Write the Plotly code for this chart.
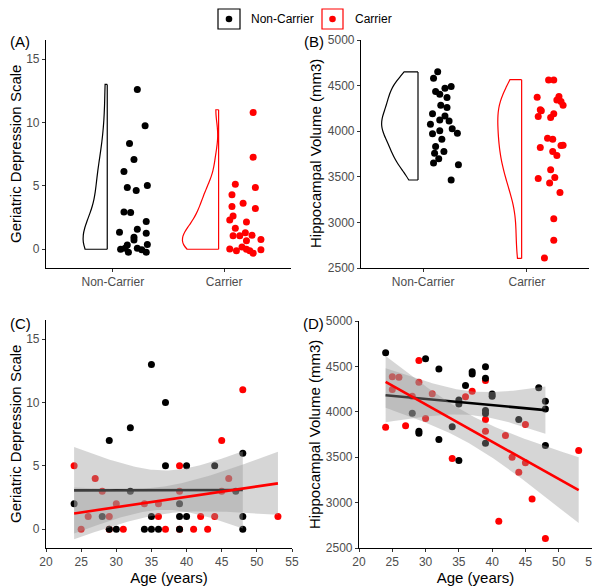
import numpy as np
import plotly.graph_objects as go
from plotly.subplots import make_subplots

# the page body keeps its default 8px margin, so the figure sits at (8, 8) in the window
PAGE_OFF = 8
W, H = 600 - PAGE_OFF, 587 - PAGE_OFF
FONT = "Liberation Sans, Arial, sans-serif"

GROUPS = ["Non-Carrier", "Carrier"]
COLORS = {"Non-Carrier": "black", "Carrier": "red"}
CAT_TICKS = [1, 2]

# ---- panel C: age vs geriatric depression scale
nc_age_gds = [24, 28, 29, 29, 30, 32, 32, 34, 35, 35, 35, 36, 37, 37, 39, 39, 39, 40, 40, 44, 47, 48, 48, 48]
nc_gds = [2, 1, 7, 0, 0, 8, 3, 0, 13, 1, 0, 0, 10, 5, 2, 1, 0, 5, 1, 5, 3, 6, 1, 0]
c_age_gds = [24, 25, 26, 27, 28, 29, 29, 30, 31, 34, 36, 36, 37, 39, 39, 39, 41, 42, 43, 44, 45, 45, 46, 48, 53]
c_gds = [5, 0, 1, 4, 3, 1, 0, 2, 0, 2, 2, 1, 0, 5, 3, 0, 0, 1, 0, 1, 7, 3, 4, 11, 1]

# ---- panel D: age vs hippocampal volume
nc_age_hv = [24, 30, 32, 39, 39, 37, 37, 36, 35, 35, 40, 40, 47, 48, 48, 39, 39, 28, 29, 29, 32, 34, 44, 39, 48, 35]
nc_hv = [4650, 4585, 4470, 4495, 4370, 4440, 4415, 4290, 4130, 4085, 4195, 4170, 4265, 4115, 4030,
         4015, 3980, 3985, 3785, 3765, 3695, 3835, 3915, 3655, 3630, 3465]
c_age_hv = [24, 25, 25, 26, 27, 28, 29, 29, 30, 31, 34, 36, 37, 39, 39, 39, 41, 42, 43, 44, 45, 45, 46, 48, 53]
c_hv = [3830, 4385, 4245, 4380, 3845, 4170, 4565, 4325, 3925, 4200, 3485, 4165, 4225, 4345, 3915,
        3785, 2795, 3740, 3500, 3335, 3860, 3440, 3040, 2605, 3575]

# ---- panel A: jittered points (category position, value) as plotted
nc_jit_x_gds = [1.22, 1.29, 1.15, 1.19, 1.10, 1.13, 1.21, 1.31, 1.10, 1.16, 1.30, 1.22, 1.06, 1.30,
                1.19, 1.19, 1.13, 1.31, 1.07, 1.11, 1.14, 1.22, 1.26, 1.30]
nc_jit_gds = [12.6, 9.73, 8.34, 7.07, 6.13, 4.87, 4.63, 5.02, 2.94, 2.89, 2.18, 1.58, 1.34, 1.26,
              0.95, 0.72, 0.34, 0.37, 0.0, 0.08, -0.24, 0.08, -0.05, -0.24]
c_jit_x_gds = [2.26, 2.26, 2.10, 2.28, 2.07, 2.17, 2.07, 2.28, 2.08, 2.05, 2.20, 2.10, 2.19, 2.08,
               2.14, 2.25, 2.33, 2.20, 2.05, 2.11, 2.16, 2.20, 2.23, 2.26, 2.33]
c_jit_gds = [10.78, 7.26, 5.13, 4.87, 4.29, 3.63, 3.37, 3.21, 2.63, 2.31, 2.15, 1.66, 1.29, 1.07,
             1.07, 1.10, 0.76, 0.66, 0.02, -0.11, 0.18, 0.0, -0.11, -0.32, -0.05]

# ---- panel B: jittered points
nc_jit_x_hv = [1.14, 1.10, 1.12, 1.16, 1.21, 1.27, 1.23, 1.17, 1.23, 1.09, 1.21, 1.16, 1.25, 1.07,
               1.16, 1.09, 1.28, 1.33, 1.18, 1.12, 1.11, 1.20, 1.15, 1.10, 1.34, 1.27]
nc_jit_hv = [4653, 4580, 4434, 4405, 4471, 4489, 4369, 4285, 4259, 4190, 4168, 4124, 4113, 4077,
             4004, 3971, 4026, 3978, 3912, 3832, 3759, 3777, 3697, 3650, 3631, 3464]
c_jit_x_hv = [2.21, 2.26, 2.10, 2.31, 2.29, 2.33, 2.35, 2.13, 2.14, 2.11, 2.23, 2.26, 2.20, 2.25,
              2.13, 2.35, 2.33, 2.25, 2.29, 2.23, 2.11, 2.22, 2.27, 2.32, 2.26, 2.26, 2.17]
c_jit_hv = [4562, 4562, 4372, 4380, 4343, 4325, 4285, 4234, 4223, 4161, 4150, 4190, 3923, 3912,
            3821, 3847, 3843, 3777, 3734, 3577, 3482, 3431, 3493, 3328, 3040, 2803, 2609]

# 97.5% t quantiles for the lm confidence band
T975 = {21: 2.080, 22: 2.074, 23: 2.069, 24: 2.064, 25: 2.060}


def nrd0(values):
    v = np.asarray(values, float)
    iqr = np.subtract(*np.percentile(v, [75, 25]))
    return 0.9 * min(v.std(ddof=1), iqr / 1.34) * len(v) ** -0.2


def lm_band(x, y, n_grid=80):
    x = np.asarray(x, float)
    y = np.asarray(y, float)
    n = len(x)
    slope, intercept = np.polyfit(x, y, 1)
    resid = y - (slope * x + intercept)
    s = np.sqrt((resid ** 2).sum() / (n - 2))
    grid = np.linspace(x.min(), x.max(), n_grid)
    fit = slope * grid + intercept
    se = s * np.sqrt(1 / n + (grid - x.mean()) ** 2 / ((x - x.mean()) ** 2).sum())
    t = T975[n - 2]
    return grid, fit, fit - t * se, fit + t * se


# window pixel -> paper coordinate
def PX(px):
    return (px - PAGE_OFF) / W


def PY(py):
    return 1 - (py - PAGE_OFF) / H


fig = make_subplots(rows=2, cols=2)

# ---- raincloud panels (A: row1 col1, B: row1 col2)
rain = [
    (1, 1, [nc_gds, c_gds], [(nc_jit_x_gds, nc_jit_gds), (c_jit_x_gds, c_jit_gds)], [0.43, 0.65]),
    (1, 2, [nc_hv, c_hv], [(nc_jit_x_hv, nc_jit_hv), (c_jit_x_hv, c_jit_hv)], [0.70, 0.46]),
]
for row, col, raw, jit, widths in rain:
    for i, g in enumerate(GROUPS):
        flat_x = CAT_TICKS[i] - 0.05
        fig.add_trace(go.Violin(
            y=raw[i], x0=flat_x, side="negative", width=widths[i],
            spanmode="hard", bandwidth=nrd0(raw[i]), points=False,
            fillcolor="rgba(0,0,0,0)", line=dict(color=COLORS[g], width=1.2),
            hoveron="violins", showlegend=False,
        ), row=row, col=col)
        # straight edge of the half violin
        fig.add_trace(go.Scatter(
            x=[flat_x, flat_x], y=[min(raw[i]), max(raw[i])], mode="lines",
            line=dict(color=COLORS[g], width=1.2), showlegend=False, hoverinfo="skip",
        ), row=row, col=col)
        fig.add_trace(go.Scatter(
            x=jit[i][0], y=jit[i][1], mode="markers",
            marker=dict(color=COLORS[g], size=7), showlegend=False,
        ), row=row, col=col)

# ---- scatter + lm panels (C: row2 col1, D: row2 col2)
scat = [
    (2, 1, [(nc_age_gds, nc_gds), (c_age_gds, c_gds)]),
    (2, 2, [(nc_age_hv, nc_hv), (c_age_hv, c_hv)]),
]
for row, col, pairs in scat:
    # red first so black points sit on top
    for i in [1, 0]:
        g = GROUPS[i]
        fig.add_trace(go.Scatter(
            x=pairs[i][0], y=pairs[i][1], mode="markers",
            marker=dict(color=COLORS[g], size=7), showlegend=False,
        ), row=row, col=col)
    for i, g in enumerate(GROUPS):
        grid, fit, lo, hi = lm_band(*pairs[i])
        fig.add_trace(go.Scatter(
            x=np.concatenate([grid, grid[::-1]]), y=np.concatenate([hi, lo[::-1]]),
            fill="toself", fillcolor="rgba(153,153,153,0.4)", line=dict(width=0),
            mode="lines", showlegend=False, hoverinfo="skip",
        ), row=row, col=col)
        fig.add_trace(go.Scatter(
            x=grid, y=fit, mode="lines", line=dict(color=COLORS[g], width=2.6),
            showlegend=False,
        ), row=row, col=col)

axis_style = dict(
    showline=True, linecolor="black", linewidth=1.1, ticks="outside", ticklen=3,
    tickcolor="#333333", tickwidth=1, showgrid=False, zeroline=False, automargin=False,
    tickfont=dict(size=12, color="#4d4d4d", family=FONT),
)
title_font = dict(size=15, color="black", family=FONT)


def dom_x(a, b):
    return [PX(a), PX(b)]


def dom_y(top, bottom):
    return [PY(bottom), PY(top)]


fig.update_layout(
    xaxis=dict(domain=dom_x(46, 291), range=[0.4, 2.6], tickvals=CAT_TICKS, ticktext=GROUPS, **axis_style),
    yaxis=dict(domain=dom_y(40, 268), range=[-1.48, 16.5], tickvals=[0, 5, 10, 15], **axis_style),
    xaxis2=dict(domain=dom_x(361, 589), range=[0.4, 2.6], tickvals=CAT_TICKS, ticktext=GROUPS, **axis_style),
    yaxis2=dict(domain=dom_y(40, 268), range=[2500, 5000], tickvals=[2500, 3000, 3500, 4000, 4500, 5000],
                **axis_style),
    xaxis3=dict(domain=dom_x(46, 292), range=[20, 55], tickvals=[20, 25, 30, 35, 40, 45, 50, 55],
                title=dict(text="Age (years)", font=title_font, standoff=2), **axis_style),
    yaxis3=dict(domain=dom_y(320, 548), range=[-1.48, 16.5], tickvals=[0, 5, 10, 15], **axis_style),
    xaxis4=dict(domain=dom_x(359, 592), range=[20, 55], tickvals=[20, 25, 30, 35, 40, 45, 50, 55],
                title=dict(text="Age (years)", font=title_font, standoff=2), **axis_style),
    yaxis4=dict(domain=dom_y(321, 548), range=[2500, 5000], tickvals=[2500, 3000, 3500, 4000, 4500, 5000],
                **axis_style),
    width=W, height=H,
    margin=dict(l=0, r=0, t=0, b=0, autoexpand=False),
    plot_bgcolor="white", paper_bgcolor="white",
    font=dict(family=FONT, color="black"),
    showlegend=False,
)

# y axis titles, placed by hand so the left one stays inside the figure
for text, x, y in [("Geriatric Depression Scale", 16, 154), ("Hippocampal Volume (mm3)", 315, 153),
                   ("Geriatric Depression Scale", 16, 434), ("Hippocampal Volume (mm3)", 315, 434)]:
    fig.add_annotation(text=text, x=PX(x), y=PY(y), xref="paper", yref="paper",
                       xanchor="center", yanchor="middle", textangle=-90, showarrow=False,
                       font=title_font)

# panel letters
for label, x, y in [("(A)", 8, 42), ("(B)", 302, 42), ("(C)", 8, 323), ("(D)", 301, 323)]:
    fig.add_annotation(text=label, x=PX(x), y=PY(y), xref="paper", yref="paper",
                       xanchor="left", yanchor="middle", showarrow=False,
                       font=dict(size=15, color="black", family=FONT))

# legend drawn by hand: outlined key box with a dot inside
LEG_TOP, LEG_BOT = 9, 29
for g, x0, x1, tx in [("Non-Carrier", 218, 240, 249), ("Carrier", 322, 343, 353)]:
    fig.add_shape(type="rect", xref="paper", yref="paper",
                  x0=PX(x0), x1=PX(x1), y0=PY(LEG_BOT), y1=PY(LEG_TOP),
                  line=dict(color=COLORS[g], width=1.2), fillcolor="white")
    cx, cy = (x0 + x1) / 2, (LEG_TOP + LEG_BOT) / 2
    fig.add_shape(type="circle", xref="paper", yref="paper",
                  x0=PX(cx - 3.3), x1=PX(cx + 3.3), y0=PY(cy + 3.3), y1=PY(cy - 3.3),
                  line=dict(color=COLORS[g], width=0), fillcolor=COLORS[g])
    fig.add_annotation(text=g, x=PX(tx), y=PY(cy), xref="paper", yref="paper",
                       xanchor="left", yanchor="middle", showarrow=False,
                       font=dict(size=12, color="black", family=FONT))

fig.write_html("out.html")
